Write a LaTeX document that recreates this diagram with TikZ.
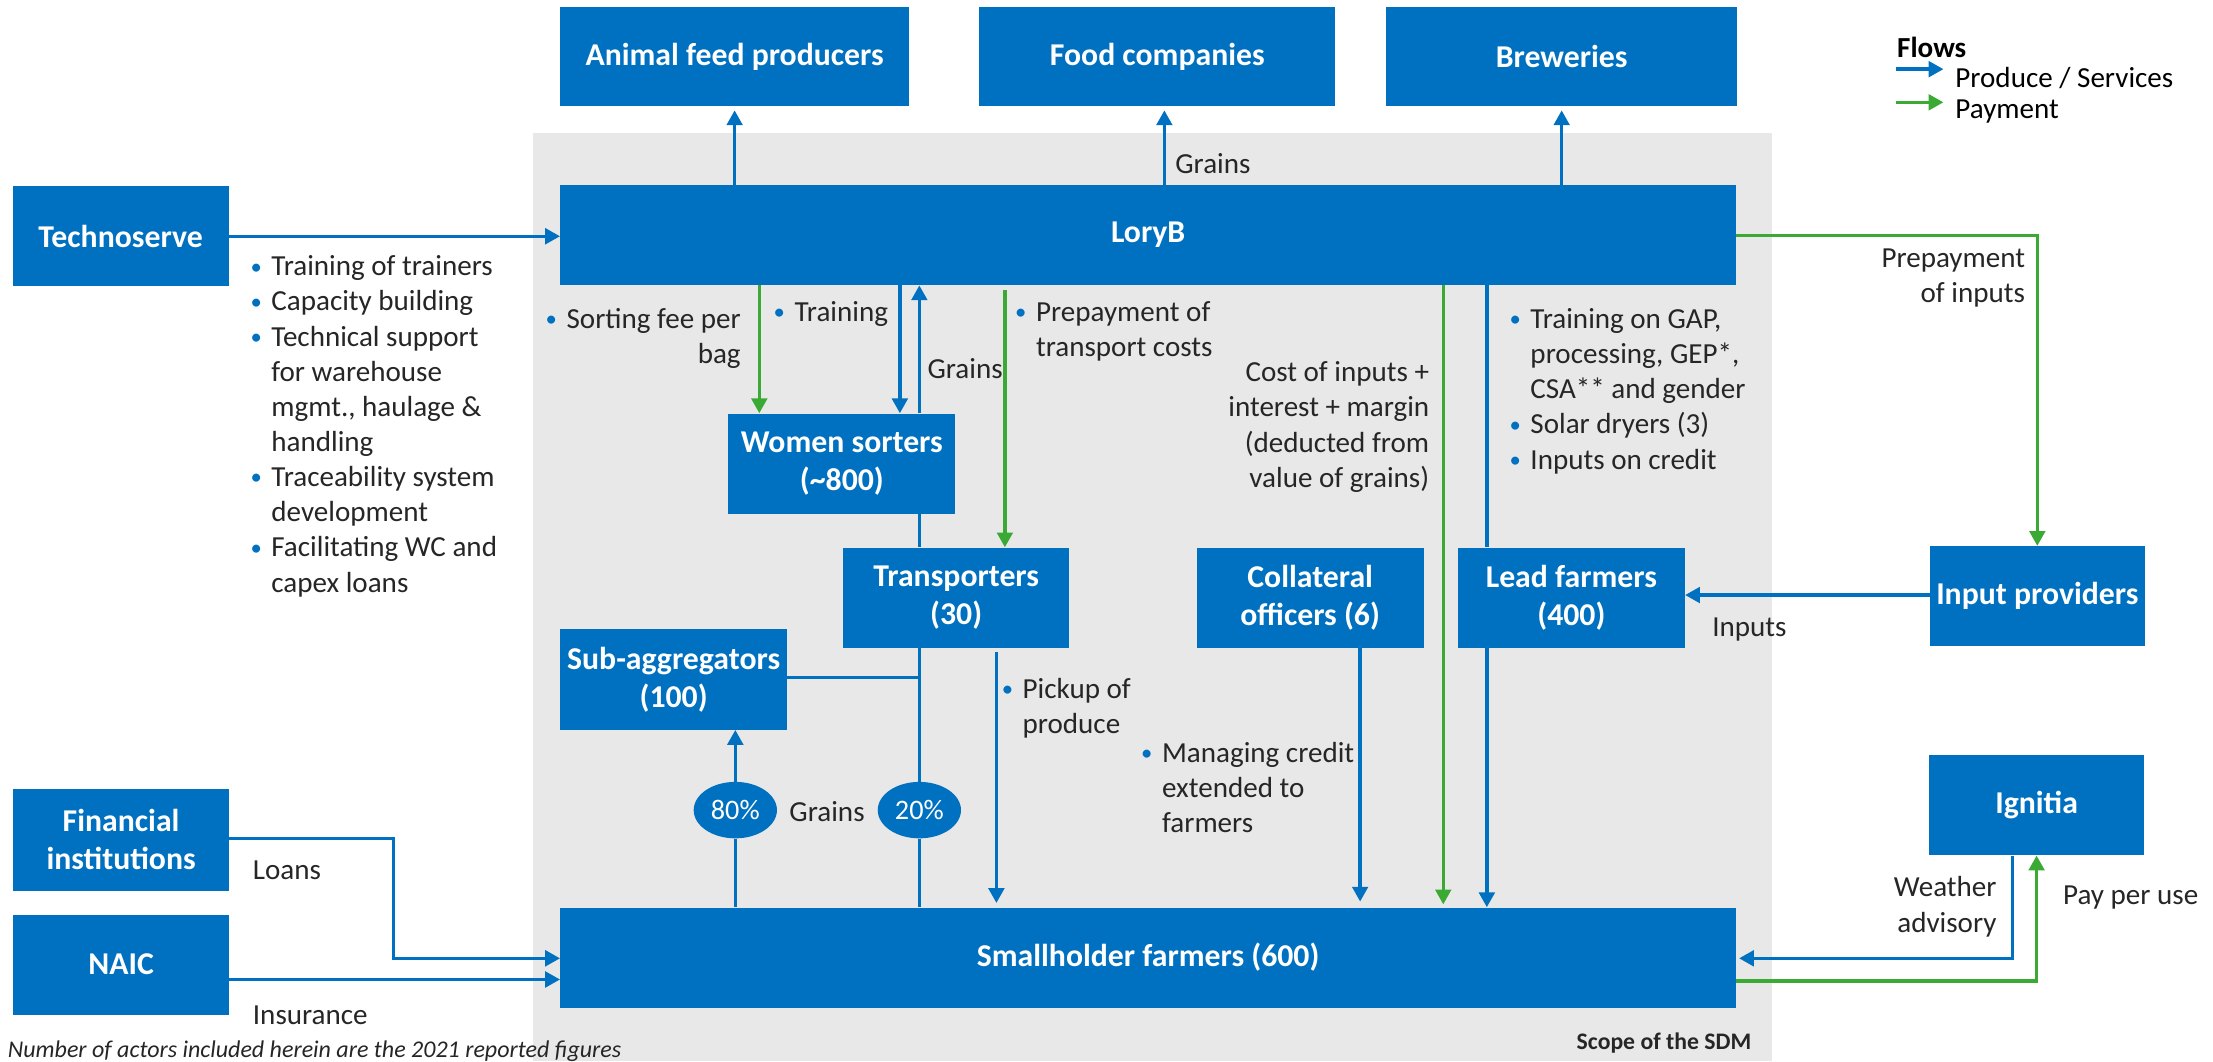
\documentclass[tikz,border=0pt]{standalone}
\usepackage{fontspec}
\usepackage{graphicx}
\setmainfont{Carlito}
\usetikzlibrary{arrows.meta,shapes.geometric}

\definecolor{bblue}{HTML}{0070C0}
\definecolor{bgreen}{HTML}{3AAA35}
\definecolor{scopegrey}{HTML}{E8E8E8}
\definecolor{ink}{HTML}{262626}

\newcommand\bodyfont{\fontsize{20.6}{24.9}\selectfont}
\newcommand\actorfont{\fontsize{22.5}{27}\selectfont\bfseries}
\newcommand\bul{\makebox[15.6pt][l]{\hspace*{0.8pt}\raisebox{1.2pt}{\scalebox{0.78}{\textcolor{bblue}{\textbullet}}}}}
\newcommand\ind{\hspace*{15.6pt}}

\pgfdeclarelayer{scopelayer}
\pgfdeclarelayer{wires}
\pgfsetlayers{scopelayer,wires,main}

\tikzset{
  actor/.style={fill=bblue, text=white, font=\actorfont, align=center,
    inner sep=0pt, minimum height=71pt},
  share/.style={ellipse, fill=bblue, text=white, font=\fontsize{20}{24}\selectfont,
    inner sep=0pt, minimum width=59pt, minimum height=40pt},
  lbl/.style={text=ink, font=\bodyfont, inner sep=0pt, yshift=-1.8pt,
    execute at begin node=\strut},
  tip/.style={-{Triangle[length=10.5pt,width=11pt]}},
  flow/.style={draw=bblue, line width=2.4pt, tip},
  pay/.style={draw=bgreen, line width=2.4pt, tip},
  plain/.style={draw=bblue, line width=2.4pt},
}

\begin{document}
\begin{tikzpicture}[x=1pt,y=-1pt]
\useasboundingbox (0,0) rectangle (1568,752);

% scope of the SDM
\begin{pgfonlayer}{scopelayer}
  \fill[white] (0,0) rectangle (1568,752);
  \fill[scopegrey] (378,94) rectangle (1255.5,752);
\end{pgfonlayer}

% actors
\node[actor, minimum width=247pt, minimum height=70pt] (feed) at (520.5,40) {Animal feed producers};
\node[actor, minimum width=252pt, minimum height=70pt] (food) at (820,40) {Food companies};
\node[actor, minimum width=249pt, minimum height=70pt] (brew) at (1106.5,40) {Breweries};
\node[actor, minimum width=833pt] (lory) at (813.5,166.5) {LoryB};
\node[actor, minimum width=153pt] (techno) at (85.5,167.4) {Technoserve};
\node[actor, minimum width=161pt] (women) at (596.5,328.5) {Women sorters\\(\textasciitilde800)};
\node[actor, minimum width=160pt] (transp) at (677.5,423.5) {Transporters\\(30)};
\node[actor, minimum width=160.7pt] (collat) at (928.3,423.5) {Collateral\\officers (6)};
\node[actor, minimum width=160.7pt] (lead) at (1113.4,423.5) {Lead farmers\\(400)};
\node[actor, minimum width=152pt] (input) at (1443.5,422.5) {Input providers};
\node[actor, minimum width=160.6pt] (subagg) at (477.3,481.5) {Sub-aggregators\\(100)};
\node[actor, minimum width=833pt] (small) at (813.5,678.5) {Smallholder farmers (600)};
\node[actor, minimum width=153pt, minimum height=72pt] (fin) at (85.8,595) {Financial\\institutions};
\node[actor, minimum width=153pt] (naic) at (85.8,683.5) {NAIC};
\node[actor, minimum width=152pt] (ignitia) at (1443,570.5) {Ignitia};
\node[share] (p80) at (521,574) {80\%};
\node[share] (p20) at (651.4,574) {20\%};

% flows
\begin{pgfonlayer}{wires}
  \draw[flow, shorten >=3pt] (lory.north -| feed.south) -- (feed.south);
  \draw[flow, shorten >=3pt] (825,0 |- lory.north) -- (825,0 |- food.south);
  \draw[flow, shorten >=3pt] (lory.north -| brew.south) -- (brew.south);
  \draw[flow] (techno.east) -- (techno.east -| lory.west);

  \draw[pay] (538,0 |- lory.south) -- (538,0 |- women.north);
  \draw[flow] (637.6,0 |- lory.south) -- (637.6,0 |- women.north);
  \draw[flow] (651.4,0 |- women.north) -- (651.4,0 |- lory.south);
  \draw[plain] (651.4,0 |- women.south) -- (651.4,0 |- transp.north);
  \draw[pay, shorten <=3.5pt] (712,0 |- lory.south) -- (712,0 |- transp.north);

  \draw[plain] (1053.5,0 |- lory.south) -- (1053.5,0 |- lead.north);
  \draw[flow] (1053.5,0 |- lead.south) -- (1053.5,0 |- small.north);
  \draw[pay, shorten >=2pt] (1022.6,0 |- lory.south) -- (1022.6,0 |- small.north);
  \draw[flow, shorten >=4pt] (963.7,0 |- collat.south) -- (963.7,0 |- small.north);
  \draw[flow, shorten <=3pt, shorten >=3pt] (706,0 |- transp.south) -- (706,0 |- small.north);

  \draw[plain] (small.north -| p20) -- (p20) -- (transp.south -| p20);
  \draw[plain] (subagg.east |- 0,480) -- (p20 |- 0,480);
  \draw[flow] (small.north -| p80) -- (p80) -- (subagg.south -| p80);

  \draw[flow] (fin.east |- 0,594) -| (279,679) -- (small.west |- 0,679);
  \draw[flow] (naic.east |- 0,694) -- (small.west |- 0,694);

  \draw[pay] (lory.east |- 0,167) -| (input.north);
  \draw[flow] (input.west |- 0,421.6) -- (lead.east |- 0,421.6);

  \draw[flow, shorten >=2pt] (1426,0 |- ignitia.south) |- (small.east |- 0,679);
  \draw[pay] (small.east |- 0,695) -| (ignitia.south);
\end{pgfonlayer}

% flow descriptions
\node[lbl, anchor=north west, align=left] (tsvc) at (176.5,179.2)
  {\bul Training of trainers\\
   \bul Capacity building\\
   \bul Technical support\\
   \ind for warehouse\\
   \ind mgmt., haulage \&\\
   \ind handling\\
   \bul Traceability system\\
   \ind development\\
   \bul Facilitating WC and\\
   \ind capex loans};
\node[lbl, anchor=north west] (grtop) at (832.6,103.2) {Grains};
\node[lbl, anchor=north east, align=right] (sortfee) at (525,216.6) {\bul Sorting fee per\\bag};
\node[lbl, anchor=north west] (trn) at (547.2,208.2) {\bul Training};
\node[lbl, anchor=north west] (grw) at (657,248.6) {Grains};
\node[lbl, anchor=north west, align=left] (prept) at (718.3,211.6) {\bul Prepayment of\\\ind transport costs};
\node[lbl, anchor=north east, align=right] (cost) at (1012.8,254.3)
  {Cost of inputs +\\interest + margin\\(deducted from\\value of grains)};
\node[lbl, anchor=north west, align=left] (leadsvc) at (1068.6,216.6)
  {\bul Training on GAP,\\
   \ind processing, GEP*,\\
   \ind CSA** and gender\\
   \bul Solar dryers (3)\\
   \bul Inputs on credit};
\node[lbl, anchor=north east, align=right] (prepin) at (1435,174.2) {Prepayment\\of inputs};
\node[lbl, anchor=north west] (inp) at (1213,431.6) {Inputs};
\node[lbl, anchor=north west, align=left] (pick) at (708.8,478.6) {\bul Pickup of\\\ind produce};
\node[lbl, anchor=north west, align=left] (cred) at (807.6,523.6)
  {\bul Managing credit\\\ind extended to\\\ind farmers};
\node[lbl, anchor=north] (grmid) at (586,562.6) {Grains};
\node[lbl, anchor=north west] (loans) at (179,603.6) {Loans};
\node[lbl, anchor=north west] (insur) at (179,706.6) {Insurance};
\node[lbl, anchor=north east, align=right] (weather) at (1414.8,619.2) {Weather\\advisory};
\node[lbl, anchor=north west] (ppu) at (1461.6,621.1) {Pay per use};

% legend
\node[lbl, anchor=north west, font=\bodyfont\bfseries, text=black] (lgtitle) at (1344,21.6) {Flows};
\node[lbl, anchor=north west, text=black] (lgflow) at (1385.3,42.9) {Produce / Services};
\node[lbl, anchor=north west, text=black] (lgpay) at (1385.3,64.2) {Payment};
\coordinate (lgA0) at (1343.5,49);
\coordinate (lgA1) at (1377,49);
\coordinate (lgB0) at (1343.5,72.5);
\coordinate (lgB1) at (1377,72.5);
\draw[flow] (lgA0) -- (lgA1);
\draw[pay] (lgB0) -- (lgB1);

% notes
\node[text=ink, inner sep=0pt, anchor=base west, font=\fontsize{17}{20}\selectfont\itshape] (note) at (5.4,749)
  {Number of actors included herein are the 2021 reported figures};
\node[text=ink, inner sep=0pt, anchor=base east, font=\fontsize{16.8}{20}\selectfont\bfseries] (scope) at (1241,743.5)
  {Scope of the SDM};
\end{tikzpicture}
\end{document}
